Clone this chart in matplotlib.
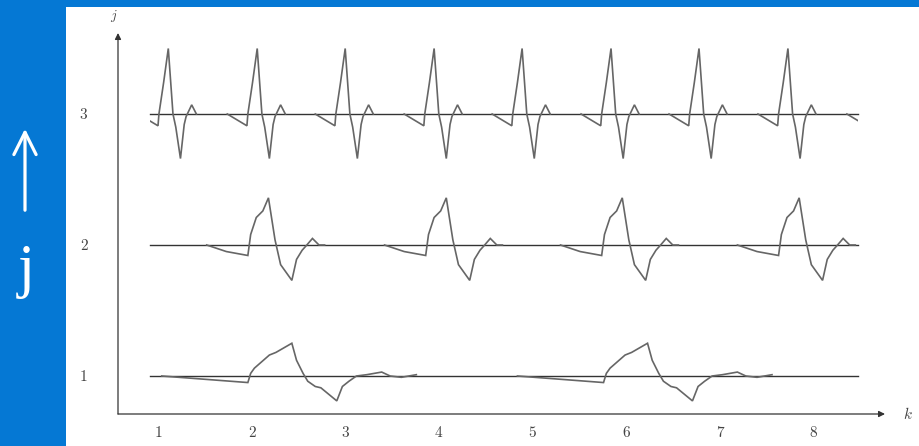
import matplotlib
matplotlib.use("Agg")
import matplotlib.pyplot as plt
import numpy as np
from matplotlib.patches import Rectangle, FancyArrowPatch

plt.rcParams["mathtext.fontset"] = "cm"

# ---- data (k along x, j along y) ----
K_TICKS = [1, 2, 3, 4, 5, 6, 7, 8]
J_TICKS = [1, 2, 3]

# one pulse of each row: offsets from the pulse start (k) and deflection (j)
R1_DK = [0.00, 0.92, 0.95, 0.99, 1.07, 1.15, 1.22, 1.39, 1.44, 1.51, 1.56,
         1.64, 1.70, 1.87, 1.93, 2.00, 2.08, 2.19, 2.35, 2.44, 2.56, 2.72]
R1_DJ = [0.00, -0.05, 0.02, 0.06, 0.11, 0.16, 0.18, 0.25, 0.12, 0.02, -0.04,
         -0.08, -0.09, -0.19, -0.08, -0.04, 0.00, 0.01, 0.03, 0.00, -0.01, 0.01]

R2_DK = [0.00, 0.21, 0.44, 0.47, 0.53, 0.60, 0.66, 0.73, 0.79, 0.85, 0.91,
         0.96, 1.02, 1.07, 1.13, 1.20, 1.26]
R2_DJ = [0.00, -0.05, -0.08, 0.08, 0.21, 0.26, 0.36, 0.04, -0.15, -0.21,
         -0.27, -0.11, -0.04, 0.00, 0.05, 0.00, 0.00]

R3_DK = [0.00, 0.21, 0.22, 0.27, 0.32, 0.37, 0.40, 0.45, 0.49, 0.51, 0.57, 0.62]
R3_DJ = [0.00, -0.09, 0.00, 0.24, 0.50, 0.00, -0.10, -0.34, -0.08, -0.02,
         0.07, 0.00]

# pulse start positions for each row
R1_STARTS = [1.04, 4.84]
R2_STARTS = [1.52, 3.42, 5.30, 7.19]
R3_STARTS = [0.79, 1.74, 2.68, 3.63, 4.57, 5.52, 6.46, 7.41, 8.36]

TRACE_START, TRACE_END = 0.915, 8.48

BLUE = "#0578d4"
W, H = 920, 446

fig = plt.figure(figsize=(W / 100, H / 100), dpi=100, facecolor=BLUE)
fig.patches.append(Rectangle((66 / W, 0), (W - 66) / W, (H - 7) / H,
                             transform=fig.transFigure, facecolor="white",
                             edgecolor="none", zorder=-1))

# left strip: arrow and j
fig.add_artist(FancyArrowPatch((25 / W, 1 - 213 / H), (25 / W, 1 - 126 / H),
                               transform=fig.transFigure, arrowstyle="->",
                               mutation_scale=40, color="white", lw=2.3))
fig.text(26 / W, 1 - 286 / H, "j", color="white", fontsize=44,
         family="Liberation Serif", ha="center", va="baseline")

x0, x1, ytop, ybot = 118, 885, 33, 414
ax = fig.add_axes([x0 / W, 1 - ybot / H, (x1 - x0) / W, (ybot - ytop) / H])
ax.set_zorder(2)
ax.set_facecolor("none")
ax.set_xlim(1 + (x0 - 158) / 93.6, 1 + (x1 - 158) / 93.6)
ax.set_ylim(1 - (ybot - 376) / 131, 1 + (376 - ytop) / 131)
for s in ax.spines.values():
    s.set_visible(False)

axis_col = "#333333"
ax.annotate("", xy=(1, 0), xytext=(0, 0), xycoords="axes fraction",
            arrowprops=dict(arrowstyle="-|>", color=axis_col, lw=0.9,
                            mutation_scale=9, shrinkA=0, shrinkB=0))
ax.annotate("", xy=(0, 1), xytext=(0, 0), xycoords="axes fraction",
            arrowprops=dict(arrowstyle="-|>", color=axis_col, lw=0.9,
                            mutation_scale=9, shrinkA=0, shrinkB=0))

clip = Rectangle((TRACE_START, 0), TRACE_END - TRACE_START, 5,
                 transform=ax.transData)

rows = [(1, R1_DK, R1_DJ, R1_STARTS), (2, R2_DK, R2_DJ, R2_STARTS),
        (3, R3_DK, R3_DJ, R3_STARTS)]
for j, dk, dj, starts in rows:
    ax.plot([TRACE_START, TRACE_END], [j, j], color="#333333", lw=1.0)
    for s in starts:
        line, = ax.plot(s + np.array(dk), j + np.array(dj), color="#666666",
                        lw=1.2, solid_joinstyle="miter")
        line.set_clip_path(clip)

label_col = "#444444"
ax.set_xticks(K_TICKS, [f"{k}" for k in K_TICKS], family="cmr10",
              fontsize=11, color=label_col)
ax.set_yticks(J_TICKS, [f"{j}" for j in J_TICKS], family="cmr10",
              fontsize=11, color=label_col)
ax.tick_params(length=0)
ax.tick_params(axis="x", pad=9)
ax.tick_params(axis="y", pad=22)

ax.text(-0.005, 1 + 17 / (ybot - ytop), "$j$", transform=ax.transAxes,
        ha="center", va="center", fontsize=10, color=label_col)
ax.text(1 + 23 / (x1 - x0), 0, "$k$", transform=ax.transAxes,
        ha="center", va="center", fontsize=11, color=label_col)

fig.savefig("out.png", dpi=100, facecolor=BLUE)
